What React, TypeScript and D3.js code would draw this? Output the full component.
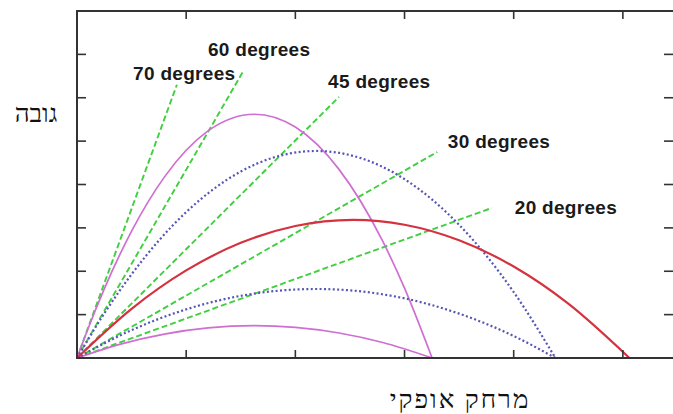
import React from "react";
import * as d3 from "d3";

// Trajectory samples [x, y] (x in bottom-tick units, y in left-tick units)
const traj70: [number, number][] = [[0,0],[0.1,0.67],[0.25,1.595],[0.5,2.925],[0.8,4.17],[1.2,5.235],[1.626,5.62],[2.0,5.324],[2.4,4.349],[2.8,2.693],[3.0,1.61],[3.2525,0]];
const traj60: [number, number][] = [[0,0],[0.25,1.027],[0.5,1.93],[1,3.363],[1.5,4.299],[1.8,4.622],[2.191,4.773],[2.6,4.608],[3,4.123],[3.5,3.07],[4,1.52],[4.382,0]];
const traj45: [number, number][] = [[0,0],[0.5,1.134],[1,2.019],[1.5,2.655],[2,3.043],[2.53,3.183],[3,3.073],[3.5,2.715],[4,2.108],[4.5,1.253],[5.06,0]];
const traj30: [number, number][] = [[0,0],[0.5,0.643],[1,1.121],[1.5,1.433],[2.191,1.591],[3,1.375],[3.5,1.023],[4,0.507],[4.382,0]];
const traj20: [number, number][] = [[0,0],[0.4,0.321],[0.8,0.552],[1.2,0.694],[1.626,0.745],[2.0,0.705],[2.4,0.576],[2.8,0.357],[3.2525,0]];

// Launch direction lines: end points
const angleNames = ["70 degrees", "60 degrees", "45 degrees", "30 degrees", "20 degrees"];
const dirEnds: [number, number][] = [[0.915, 6.3], [1.52, 6.6], [2.4, 6.02], [3.3, 4.75], [3.8, 3.46]];
// Label anchors (left, baseline) in data units
const labelAnchors: [number, number][] = [[0.514, 6.41], [1.2, 6.96], [2.3, 6.22], [3.397, 4.84], [4.01, 3.32]];

const xTicks = [1, 2, 3, 4, 5];
const yTicks = [1, 2, 3, 4, 5, 6, 7];
const yLabel = "גובה";
const xLabel = "מרחק אופקי";

export default function App() {
  const W = 673, H = 414;
  const x = d3.scaleLinear().domain([0, 5.45]).range([77, 672]);
  const y = d3.scaleLinear().domain([0, 8]).range([358, 11]);
  const line = d3.line<[number, number]>().x(d => x(d[0])).y(d => y(d[1])).curve(d3.curveMonotoneX);

  const pink = "#cf6fd2";
  const blue = "#5656b4";
  const red = "#d4323f";
  const green = "#3fcf3f";

  const curves = [
    { d: traj70, c: pink, w: 1.7, dash: undefined as string | undefined },
    { d: traj20, c: pink, w: 1.7, dash: undefined },
    { d: traj60, c: blue, w: 2.2, dash: "2,2.4" },
    { d: traj30, c: blue, w: 2.2, dash: "2,2.4" },
    { d: traj45, c: red, w: 2.2, dash: undefined },
  ];

  return (
    <svg width={W} height={H} style={{ position: "absolute", left: 0, top: 0, background: "#fff" }}>
      <rect x={0} y={0} width={W} height={H} fill="#fff" />
      {dirEnds.map((e, i) => (
        <line key={"g" + i} x1={x(0)} y1={y(0)} x2={x(e[0])} y2={y(e[1])}
          stroke={green} strokeWidth={1.9} strokeDasharray="6,3" />
      ))}
      {curves.map((c, i) => (
        <path key={"c" + i} d={line(c.d) || ""} fill="none" stroke={c.c} strokeWidth={c.w}
          strokeDasharray={c.dash} />
      ))}
      {angleNames.map((t, i) => (
        <text key={"t" + i} x={x(labelAnchors[i][0])} y={y(labelAnchors[i][1])}
          fontFamily="Liberation Sans, Arial, sans-serif" fontWeight="bold" fontSize={19}
          letterSpacing={0.3} fill="#1a1a1a">{t}</text>
      ))}
      {/* frame */}
      <rect x={x(0)} y={y(8)} width={x(5.45) - x(0) + 2} height={y(0) - y(8)} fill="none" stroke="#333" strokeWidth={2} />
      {xTicks.map(t => (
        <g key={"xt" + t}>
          <line x1={x(t)} x2={x(t)} y1={y(0)} y2={y(0) - 8} stroke="#333" strokeWidth={1.6} />
          <line x1={x(t)} x2={x(t)} y1={y(8)} y2={y(8) + 8} stroke="#333" strokeWidth={1.6} />
        </g>
      ))}
      {yTicks.map(t => (
        <g key={"yt" + t}>
          <line x1={x(0)} x2={x(0) + 9} y1={y(t)} y2={y(t)} stroke="#333" strokeWidth={1.6} />
          <line x1={664} x2={673} y1={y(t)} y2={y(t)} stroke="#333" strokeWidth={1.6} />
        </g>
      ))}
      <text x={36} y={122} textAnchor="middle" fontFamily="Liberation Serif, DejaVu Serif, serif" fontSize={26} fill="#111">{yLabel}</text>
      <text x={460} y={408} textAnchor="middle" fontFamily="Liberation Serif, DejaVu Serif, serif" fontSize={26} letterSpacing={2} fill="#111">{xLabel}</text>
    </svg>
  );
}
